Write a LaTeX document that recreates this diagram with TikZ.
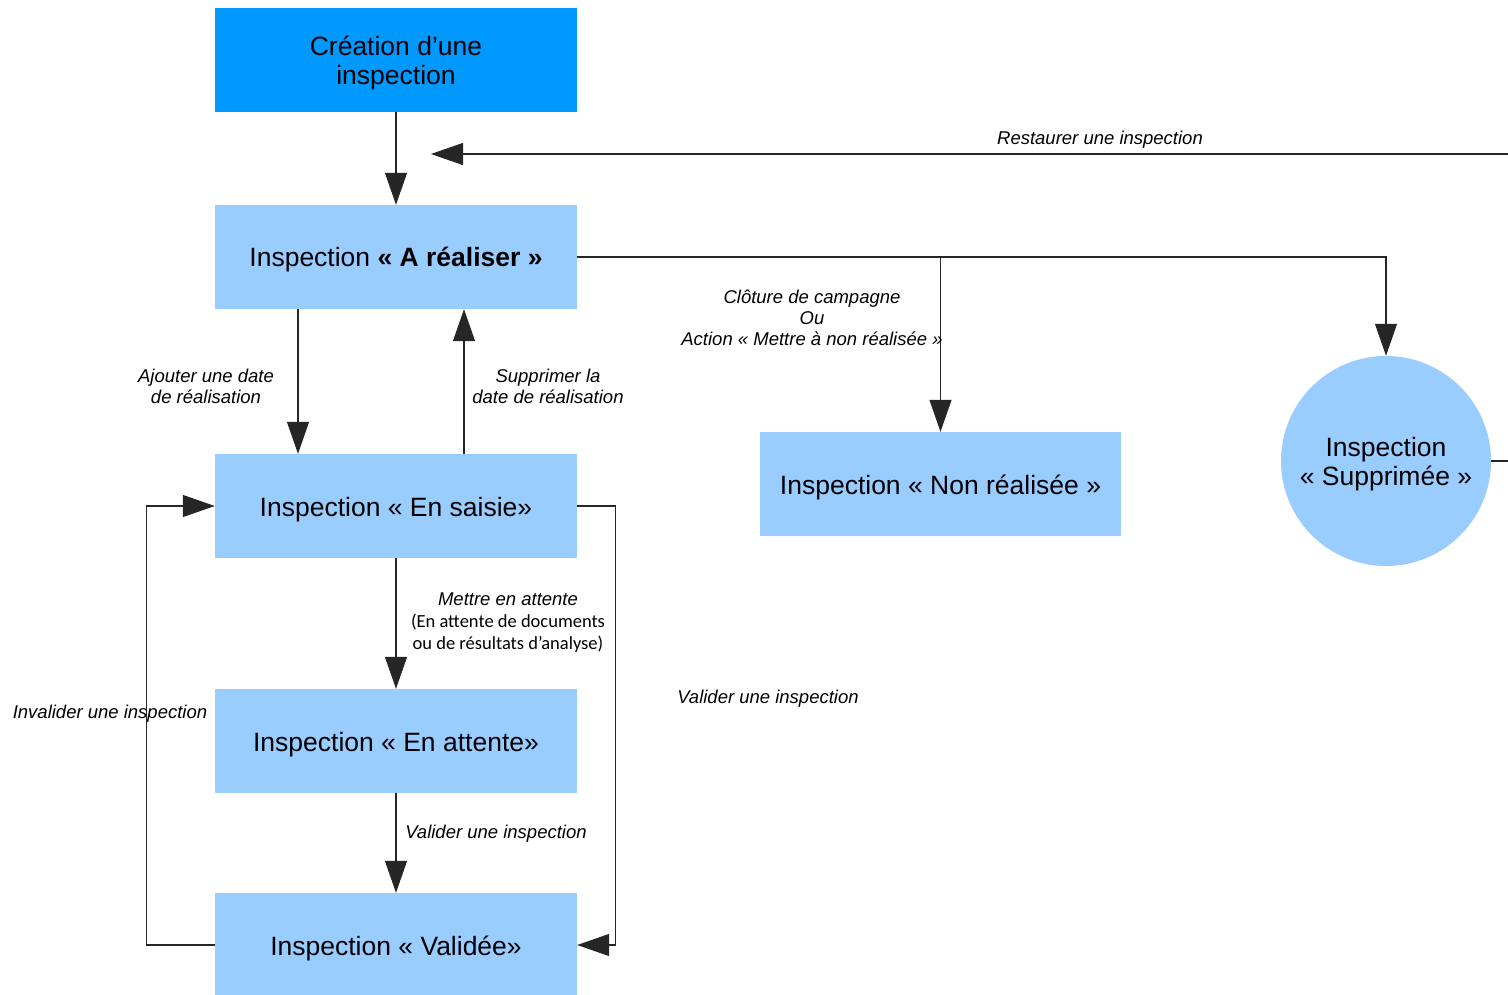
\documentclass[tikz,border=0pt]{standalone}
\usepackage{fontspec}
\setmainfont{Liberation Sans}
\newfontfamily\carlito{Carlito}
\usetikzlibrary{arrows.meta}
\definecolor{dblue}{HTML}{0099FF}
\definecolor{lblue}{HTML}{99CCFF}
\begin{document}
\begin{tikzpicture}[x=1pt,y=-1pt,
  boxfont/.style={font=\fontsize{26.5}{29}\selectfont, align=center},
  box/.style={fill=lblue, minimum width=362pt, minimum height=104pt, inner sep=0pt, text height=25.5pt, boxfont},
  plain/.style={draw=black!85, line width=1.1pt},
  conn/.style={plain, -{Triangle[length=32pt,width=22pt]}},
  lab/.style={font=\fontsize{18.5}{21}\selectfont\itshape, align=center, inner sep=0pt}]
\clip (0,0) rectangle (1508,995);
\fill[white] (0,0) rectangle (1508,995);
% nodes
\node[box, fill=dblue] (cr) at (396,60) {};
\node[boxfont, inner sep=0pt] (crt) at (396,63) {Création d’une\\ inspection};
\node[box] (ar) at (396,257) {Inspection \textbf{« A réaliser »}};
\node[box] (es) at (396,506) {Inspection « En saisie»};
\node[box] (ea) at (396,741) {Inspection « En attente»};
\node[box] (va) at (396,945) {Inspection « Validée»};
\node[box, minimum width=361pt] (nr) at (940.5,484) {Inspection « Non réalisée »};
\node[circle, fill=lblue, minimum size=210pt, inner sep=0pt] (sup) at (1386,461) {};
\node[boxfont, inner sep=0pt] (supt) at (1386,464) {Inspection\\ « Supprimée »};
\coordinate (rest) at (431,154);
% connectors
\draw[conn] (cr.south) -- (ar.north);
\draw[conn] (sup.east) -- ++(40,0) |- (rest);
\draw[conn] (ar.east) -| (nr.north);
\draw[conn] (ar.east) -| (sup.north);
\draw[conn] ([xshift=-98pt]ar.south) -- ([xshift=-98pt]es.north);
\draw[conn] ([xshift=68pt]es.north) -- ([xshift=68pt]ar.south);
\draw[conn] (es.south) -- (ea.north);
\draw[conn] (ea.south) -- (va.north);
\draw[conn] (es.east) -- ++(38,0) |- (va.east);
\draw[conn] (va.west) -- ++(-68,0) |- (es.west);
% labels
\node[lab] (l1) at (1100,140) {Restaurer une inspection};
\node[lab] (l2) at (812,318) {Clôture de campagne\\ Ou\\ Action « Mettre à non réalisée »};
\node[lab] (l3) at (206,386) {Ajouter une date\\ de réalisation};
\node[lab] (l4) at (548,386) {Supprimer la\\ date de réalisation};
\node[lab, font=\fontsize{18.5}{22}\selectfont] (l5) at (508,622.5) {\textit{Mettre en attente}\\ {\carlito\fontsize{18.5}{22}\selectfont (En attente de documents}\\ {\carlito\fontsize{18.5}{22}\selectfont ou de résultats d’analyse)}};
\node[lab] (l6) at (496,834) {Valider une inspection};
\node[lab] (l7) at (768,699) {Valider une inspection};
\node[lab] (l8) at (110,714) {Invalider une inspection};
\end{tikzpicture}
\end{document}
